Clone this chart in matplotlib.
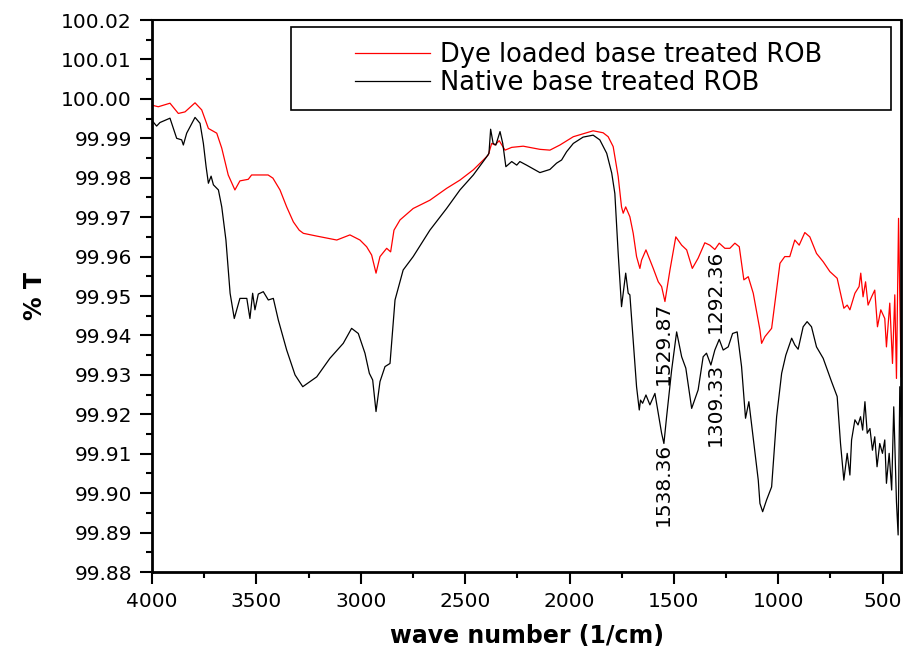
import matplotlib
matplotlib.use('Agg')
import matplotlib.pyplot as plt
from matplotlib.ticker import MultipleLocator, FormatStrFormatter
from matplotlib.patches import Rectangle

# FTIR SPECTRA (wave number in 1/cm, transmittance in %)
wn_dye = [4000, 3970, 3914, 3874, 3842, 3794, 3762, 3730, 3690, 3666, 3635, 3603, 3579, 3539,
          3523, 3483, 3444, 3421, 3387, 3355, 3323, 3295, 3275, 3211, 3115, 3052, 3004, 2972,
          2948, 2927, 2908, 2876, 2857, 2841, 2812, 2749, 2669, 2589, 2525, 2461, 2413, 2389,
          2373, 2357, 2337, 2309, 2277, 2222, 2142, 2094, 2046, 1982, 1887, 1839, 1815, 1791,
          1767, 1751, 1743, 1731, 1711, 1695, 1679, 1663, 1655, 1634, 1599, 1575, 1559, 1543,
          1519, 1491, 1463, 1439, 1412, 1384, 1352, 1328, 1304, 1283, 1256, 1232, 1208, 1187,
          1165, 1144, 1120, 1088, 1080, 1064, 1032, 992, 969, 945, 921, 900, 873, 849, 817,
          785, 753, 718, 686, 670, 657, 633, 613, 605, 594, 582, 570, 553, 538, 525, 509, 490,
          482, 466, 453, 442, 434, 424, 412]
t_dye = [99.9984, 99.9980, 99.9989, 99.9963, 99.9967, 99.9990, 99.9972, 99.9925, 99.9913,
         99.9875, 99.9807, 99.9769, 99.9792, 99.9796, 99.9807, 99.9807, 99.9807, 99.9799,
         99.9769, 99.9726, 99.9688, 99.9667, 99.9659, 99.9652, 99.9642, 99.9655, 99.9642,
         99.9625, 99.9604, 99.9558, 99.9600, 99.9621, 99.9612, 99.9667, 99.9693, 99.9722,
         99.9743, 99.9773, 99.9794, 99.9820, 99.9845, 99.9858, 99.9887, 99.9883, 99.9894,
         99.9870, 99.9877, 99.9880, 99.9872, 99.9870, 99.9883, 99.9904, 99.9919, 99.9914,
         99.9904, 99.9879, 99.9803, 99.9726, 99.9710, 99.9726, 99.9701, 99.9659, 99.9600,
         99.9570, 99.9591, 99.9617, 99.9570, 99.9536, 99.9524, 99.9486, 99.9566, 99.9650,
         99.9629, 99.9617, 99.9570, 99.9596, 99.9635, 99.9629, 99.9618, 99.9634, 99.9621,
         99.9621, 99.9634, 99.9625, 99.9541, 99.9549, 99.9507, 99.9414, 99.9380, 99.9397,
         99.9418, 99.9583, 99.9600, 99.9600, 99.9642, 99.9629, 99.9661, 99.9650, 99.9608,
         99.9587, 99.9562, 99.9545, 99.9469, 99.9477, 99.9465, 99.9507, 99.9524, 99.9558,
         99.9498, 99.9536, 99.9477, 99.9498, 99.9515, 99.9422, 99.9465, 99.9443, 99.9371,
         99.9482, 99.9329, 99.9503, 99.9291, 99.9697, 99.9295]

wn_native = [4000, 3978, 3962, 3914, 3882, 3858, 3850, 3834, 3794, 3770, 3754, 3741, 3730,
             3717, 3706, 3682, 3666, 3646, 3626, 3606, 3579, 3546, 3531, 3518, 3507, 3491,
             3467, 3443, 3419, 3395, 3355, 3315, 3278, 3211, 3148, 3084, 3044, 3012, 2980,
             2959, 2943, 2927, 2908, 2884, 2860, 2836, 2797, 2749, 2669, 2589, 2525, 2461,
             2397, 2386, 2378, 2366, 2353, 2333, 2320, 2305, 2277, 2253, 2238, 2206, 2142,
             2094, 2062, 2038, 2014, 1982, 1935, 1887, 1855, 1822, 1798, 1783, 1767, 1751,
             1731, 1719, 1711, 1695, 1679, 1666, 1660, 1650, 1634, 1615, 1591, 1575, 1559,
             1548, 1535, 1511, 1487, 1463, 1443, 1415, 1384, 1360, 1344, 1323, 1304, 1283,
             1264, 1240, 1219, 1197, 1176, 1157, 1141, 1120, 1096, 1088, 1075, 1056, 1032,
             1008, 984, 964, 936, 921, 905, 881, 862, 841, 817, 785, 745, 718, 702, 686, 670,
             657, 649, 633, 618, 606, 596, 585, 574, 561, 549, 538, 527, 514, 501, 490, 482,
             469, 457, 447, 434, 426, 418, 411]
t_native = [99.9945, 99.9931, 99.9940, 99.9951, 99.9900, 99.9896, 99.9883, 99.9913, 99.9953,
            99.9938, 99.9887, 99.9828, 99.9786, 99.9804, 99.9782, 99.9769, 99.9726, 99.9642,
            99.9507, 99.9443, 99.9494, 99.9494, 99.9443, 99.9507, 99.9465, 99.9505, 99.9511,
            99.9490, 99.9494, 99.9439, 99.9363, 99.9300, 99.9270, 99.9295, 99.9342, 99.9380,
            99.9418, 99.9405, 99.9355, 99.9304, 99.9287, 99.9207, 99.9283, 99.9321, 99.9329,
            99.9490, 99.9566, 99.9600, 99.9667, 99.9722, 99.9769, 99.9807, 99.9853, 99.9862,
            99.9923, 99.9887, 99.9883, 99.9917, 99.9887, 99.9828, 99.9841, 99.9832, 99.9841,
            99.9832, 99.9813, 99.9821, 99.9837, 99.9845, 99.9866, 99.9887, 99.9903, 99.9908,
            99.9896, 99.9862, 99.9812, 99.9760, 99.9608, 99.9473, 99.9558, 99.9507, 99.9503,
            99.9388, 99.9270, 99.9211, 99.9236, 99.9228, 99.9249, 99.9224, 99.9253, 99.9203,
            99.9152, 99.9126, 99.9194, 99.9312, 99.9409, 99.9346, 99.9317, 99.9215, 99.9262,
            99.9346, 99.9355, 99.9325, 99.9363, 99.9390, 99.9363, 99.9371, 99.9405, 99.9409,
            99.9321, 99.9190, 99.9232, 99.9139, 99.9033, 99.8974, 99.8953, 99.8983, 99.9016,
            99.9194, 99.9304, 99.9350, 99.9393, 99.9376, 99.9365, 99.9422, 99.9435, 99.9422,
            99.9371, 99.9342, 99.9283, 99.9245, 99.9126, 99.9033, 99.9101, 99.9046, 99.9135,
            99.9186, 99.9173, 99.9194, 99.9160, 99.9232, 99.9152, 99.9164, 99.9109, 99.9143,
            99.9067, 99.9126, 99.9101, 99.9135, 99.9025, 99.9101, 99.9008, 99.9219, 99.8978,
            99.8894, 99.9270, 99.9194]

# PEAK LABELS
peak_labels = ['1529.87', '1538.36', '1292.36', '1309.33']
peak_x = [1553, 1553, 1304, 1300]
peak_y = [99.9380, 99.9022, 99.9513, 99.9225]

fig = plt.figure(figsize=(9.06, 6.56), dpi=100)
ax = fig.add_axes([0.1678, 0.128, 0.8272, 0.8415])

ax.plot(wn_dye, t_dye, color='#ff0000', linewidth=0.9, label='Dye loaded base treated ROB')
ax.plot(wn_native, t_native, color='black', linewidth=0.9, label='Native base treated ROB')

for lab, px, py in zip(peak_labels, peak_x, peak_y):
    ax.text(px, py, lab, rotation=90, ha='center', va='center', fontsize=14.5)

ax.set_xlim(4000, 410)
ax.set_ylim(99.88, 100.02)
ax.xaxis.set_major_locator(MultipleLocator(500))
ax.xaxis.set_minor_locator(MultipleLocator(250))
ax.yaxis.set_major_locator(MultipleLocator(0.01))
ax.yaxis.set_minor_locator(MultipleLocator(0.005))
ax.yaxis.set_major_formatter(FormatStrFormatter('%.2f'))

ax.tick_params(which='major', length=8.5, width=1.5, direction='out', labelsize=14.5, pad=6)
ax.tick_params(which='minor', length=4.3, width=1.5, direction='out')
for side in ['left', 'bottom', 'right']:
    ax.spines[side].set_linewidth(2.0)
ax.spines['top'].set_linewidth(1.5)

ax.set_xlabel('wave number (1/cm)', fontsize=17, fontweight='bold', labelpad=9)
ax.set_ylabel('% T', fontsize=17, fontweight='bold', labelpad=10)

# CAIXA DA LEGENDA
ax.add_patch(Rectangle((0.1856, 0.837), 0.801, 0.150, transform=ax.transAxes,
                       fill=False, edgecolor='black', linewidth=1.2, zorder=5))
leg = ax.legend(loc='center', bbox_to_anchor=(0.583, 0.912), frameon=False,
                fontsize=18.5, handlelength=2.9, handletextpad=0.4, labelspacing=0.08,
                borderpad=0)

plt.savefig('out.png', dpi=100)
